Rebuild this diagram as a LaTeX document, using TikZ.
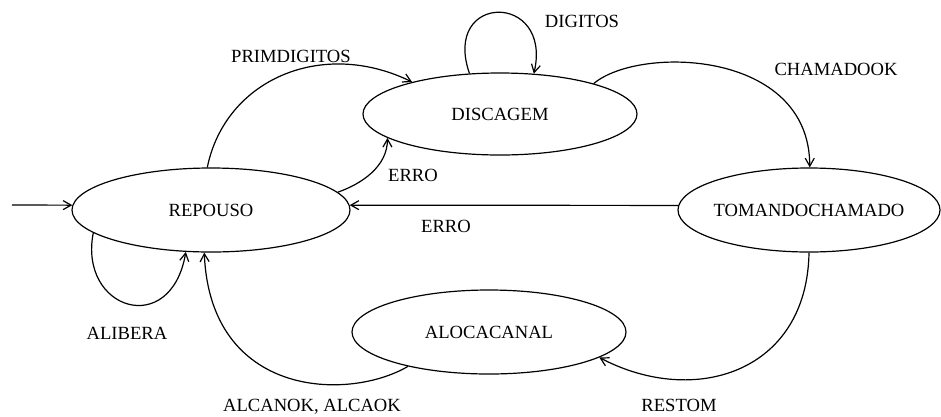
\documentclass[tikz,border=0pt]{standalone}
\usepackage{fontspec}
\setmainfont{Liberation Serif}
\usetikzlibrary{shapes.geometric,arrows.meta}
\begin{document}
\begin{tikzpicture}[x=1pt,y=-1pt,
  state/.style={ellipse,draw,line width=1.2pt,inner sep=0pt,font=\fontsize{18.6}{22}\selectfont},
  lbl/.style={font=\fontsize{18.6}{22}\selectfont,inner sep=0pt},
  edge/.style={line width=1.2pt,-{Straight Barb[length=8pt,width=9pt]}}]
\useasboundingbox (0,0) rectangle (941,416);
\node[state,minimum width=278pt,minimum height=84pt] (rep) at (211,210) {\makebox[0pt]{REPOUSO}};
\node[state,minimum width=274pt,minimum height=82pt] (dis) at (500,114) {\makebox[0pt]{DISCAGEM}};
\node[state,minimum width=262pt,minimum height=84pt] (tom) at (809,210) {\makebox[0pt]{TOMANDOCHAMADO}};
\node[state,minimum width=274pt,minimum height=84pt] (alo) at (489,332) {\makebox[0pt]{ALOCACANAL}};
\coordinate (init) at (12,205);
\draw[edge] (init) -- (rep.178);
\draw[edge] (rep.95) .. controls +(18,-88) and +(-90,-44) .. (dis.160);
\draw[edge] (rep.8) .. controls +(23,-8) and +(0,29) .. (dis.192);
\draw[edge] (dis.127) .. controls +(-28,-81) and +(19,-82) .. (dis.50);
\draw[edge] (dis.18) .. controls +(45,-38) and +(0,-118) .. (tom.89);
\draw[edge] (tom.178) -- (rep.2);
\draw[edge] (tom.270) .. controls +(-2,120) and +(95,50) .. (alo.347);
\draw[edge] (alo.203) .. controls +(-60,35) and +(6,145) .. (rep.261);
\draw[edge] (rep.191) .. controls +(-15,77) and +(-15,87) .. (rep.239);
\node[lbl] (lprim) at (291,56) {PRIMDIGITOS};
\node[lbl] (lerro1) at (413,175) {ERRO};
\node[lbl] (ldig) at (582,21) {DIGITOS};
\node[lbl] (lcham) at (836,69) {CHAMADOOK};
\node[lbl] (lerro2) at (446,226) {ERRO};
\node[lbl] (lrest) at (679,405) {RESTOM};
\node[lbl] (lalc) at (312,407) {ALCANOK, ALCAOK};
\node[lbl] (lalib) at (127,333) {ALIBERA};
\end{tikzpicture}
\end{document}
